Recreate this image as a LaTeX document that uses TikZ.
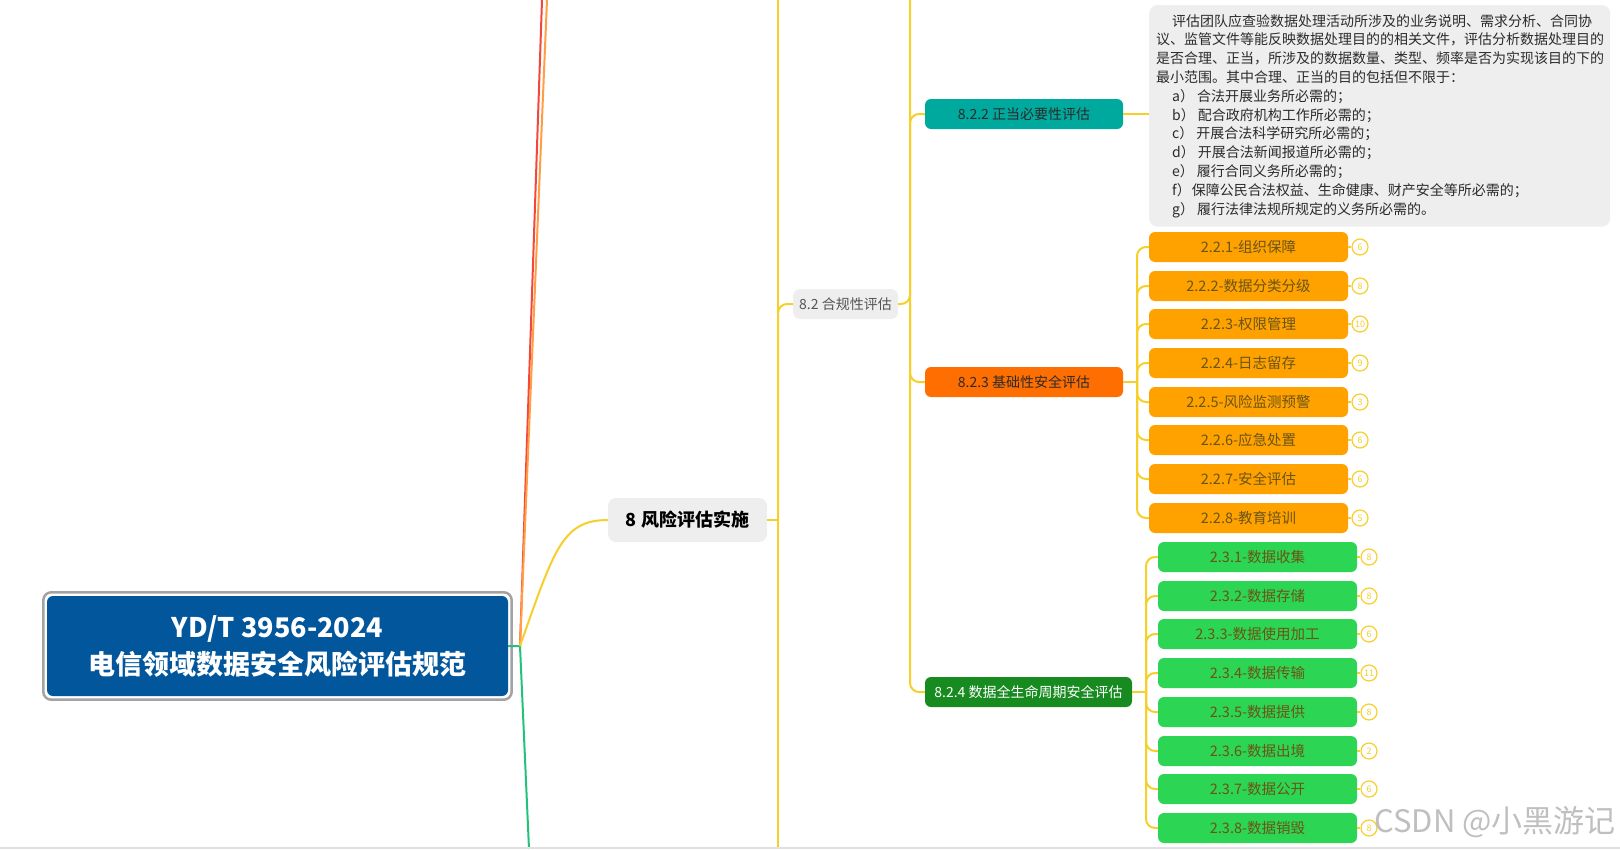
\documentclass[tikz,border=0pt]{standalone}
\usepackage{fontspec}
\setmainfont{Noto Sans CJK SC}
\newcommand{\pxsize}[2]{\fontsize{#1}{#2}\selectfont}
\definecolor{ink}{HTML}{2B2B2B}
\definecolor{slate}{HTML}{555555}
\definecolor{mist}{HTML}{EEEEEE}
\definecolor{frame}{HTML}{A3A3A3}
\definecolor{rootblue}{HTML}{02569B}
\definecolor{tealbox}{HTML}{00A99D}
\definecolor{tangerine}{HTML}{FF6E00}
\definecolor{forest}{HTML}{178A20}
\definecolor{amber}{HTML}{FFA200}
\definecolor{lime}{HTML}{2DD555}
\definecolor{olive}{HTML}{6A5416}
\definecolor{branch}{HTML}{F6CF2A}
\definecolor{linered}{HTML}{F2473C}
\definecolor{lineorange}{HTML}{FF9E45}
\definecolor{linegreen}{HTML}{22C27C}
\tikzset{
  %% nodes
  rootbox/.style  = {rounded corners=6pt, fill=rootblue, text=white, align=center,
                     minimum width=461pt, minimum height=100pt, inner sep=0pt,
                     font=\pxsize{27}{37}\bfseries},
  topic/.style    = {rounded corners=8pt, fill=mist, text=black, inner sep=0pt,
                     minimum width=159pt, minimum height=44pt, font=\pxsize{18}{22}\bfseries},
  subtopic/.style = {rounded corners=7pt, fill=mist, text=slate, inner sep=0pt,
                     minimum width=105pt, minimum height=30pt, font=\pxsize{14}{17}},
  section/.style  = {rounded corners=6pt, text=ink, inner sep=0pt,
                     minimum width=198pt, minimum height=30pt, font=\pxsize{14}{17}},
  item/.style     = {rounded corners=6pt, text=olive, inner sep=0pt,
                     minimum width=199pt, minimum height=30pt, font=\pxsize{14.5}{17}},
  badge/.style    = {circle, draw=branch, line width=1.2pt, fill=white, text=branch,
                     minimum size=16pt, inner sep=0pt, font=\pxsize{9}{10}},
  notebox/.style  = {rounded corners=8pt, fill=mist, text=ink, align=left,
                     text width=447pt, inner xsep=7pt, inner ysep=9pt,
                     font=\pxsize{14}{18.8}},
  watermark/.style= {text=black!25, font=\pxsize{31}{34}},
  %% connectors
  link/.style     = {draw=branch, line width=2pt, rounded corners=9pt},
}

\begin{document}
\begin{tikzpicture}[x=1pt, y=-1pt]
\useasboundingbox (0,0) rectangle (1620,849);

%% ---- root (left) ----
\node[rootbox] (root) at (277.5,646) {YD/T 3956-2024\\电信领域数据安全风险评估规范};
\draw[draw=frame, line width=2.5pt, rounded corners=8pt]
  ([shift={(-3.5,-3.5)}]root.north west) rectangle ([shift={(3.5,3.5)}]root.south east);

\coordinate (hub)       at (520,646);
\coordinate (redtop)    at (542,0);
\coordinate (orangetop) at (547,0);
\coordinate (greenend)  at (529,849);
\draw[draw=linegreen, line width=2pt] (root.east) -- (hub) -- (greenend);
\draw[draw=linered, line width=2pt] (hub) -- (redtop);
\draw[draw=lineorange, line width=2pt] (hub) -- (orangetop);

%% ---- chapter 8 ----
\node[topic] (risk) at (687.5,520) {8 风险评估实施};
\draw[draw=branch, line width=2pt] (hub) .. controls (554,550) and (562,520) .. (risk.west);

\coordinate (trunkA)    at (778,520);
\coordinate (trunkAtop) at (778,0);
\coordinate (trunkAbot) at (778,849);
\draw[link] (risk.east) -- (trunkA);
\draw[link] (trunkAtop) -- (trunkAbot);

\node[subtopic] (comp) at (845.5,304) {8.2 合规性评估};
\draw[link] (trunkA) |- (comp.west);

%% ---- 8.2 sections ----
\node[section, fill=tealbox] (nec)  at (1024,114) {8.2.2 正当必要性评估};
\node[section, fill=tangerine] (base) at (1024,382) {8.2.3 基础性安全评估};
\node[section, fill=forest, text=white, minimum width=207pt] (life) at (1028.5,692)
   {8.2.4 数据全生命周期安全评估};

\coordinate (trunkB)    at (910,304);
\coordinate (trunkBtop) at (910,0);
\draw[link] (comp.east) -- (trunkB) -- (trunkBtop);
\draw[link] (trunkB) |- (nec.west);
\draw[link] (trunkB) |- (base.west);
\draw[link] (trunkB) |- (life.west);

%% note of 8.2.2
\node[notebox, anchor=north west] (note) at (1149,5)
  {\hspace*{16pt}评估团队应查验数据处理活动所涉及的业务说明、需求分析、合同协\\
   议、监管文件等能反映数据处理目的的相关文件，评估分析数据处理目的\\
   是否合理、正当，所涉及的数据数量、类型、频率是否为实现该目的下的\\
   最小范围。其中合理、正当的目的包括但不限于：\\
   \hspace*{16pt}a）\hspace{3pt}合法开展业务所必需的；\\
   \hspace*{16pt}b）\hspace{3pt}配合政府机构工作所必需的；\\
   \hspace*{16pt}c）\hspace{3pt}开展合法科学研究所必需的；\\
   \hspace*{16pt}d）\hspace{3pt}开展合法新闻报道所必需的；\\
   \hspace*{16pt}e）\hspace{3pt}履行合同义务所必需的；\\
   \hspace*{16pt}f）\hspace{1pt}保障公民合法权益、生命健康、财产安全等所必需的；\\
   \hspace*{16pt}g）\hspace{3pt}履行法律法规所规定的义务所必需的。};
\draw[link] (nec.east) -- (note.west |- nec.east);

%% ---- 8.2.3 items (orange) ----
\coordinate (trunkC) at (1137,382);
\draw[link] (base.east) -- (trunkC);
\node[item, fill=amber] (o1) at (1248.5,247) {2.2.1-组织保障};
\node[item, fill=amber] (o2) at (1248.5,286) {2.2.2-数据分类分级};
\node[item, fill=amber] (o3) at (1248.5,324) {2.2.3-权限管理};
\node[item, fill=amber] (o4) at (1248.5,363) {2.2.4-日志留存};
\node[item, fill=amber] (o5) at (1248.5,402) {2.2.5-风险监测预警};
\node[item, fill=amber] (o6) at (1248.5,440) {2.2.6-应急处置};
\node[item, fill=amber] (o7) at (1248.5,479) {2.2.7-安全评估};
\node[item, fill=amber] (o8) at (1248.5,518) {2.2.8-教育培训};
\draw[link] (trunkC) |- (o1.west);
\draw[link] (trunkC) |- (o2.west);
\draw[link] (trunkC) |- (o3.west);
\draw[link] (trunkC) |- (o4.west);
\draw[link] (trunkC) |- (o5.west);
\draw[link] (trunkC) |- (o6.west);
\draw[link] (trunkC) |- (o7.west);
\draw[link] (trunkC) |- (o8.west);

\node[badge] (oc1) at (1360,247) {6};
\node[badge] (oc2) at (1360,286) {8};
\node[badge] (oc3) at (1360,324) {10};
\node[badge] (oc4) at (1360,363) {9};
\node[badge] (oc5) at (1360,402) {3};
\node[badge] (oc6) at (1360,440) {6};
\node[badge] (oc7) at (1360,479) {6};
\node[badge] (oc8) at (1360,518) {5};
\draw[link] (o1.east) -- (oc1.west);
\draw[link] (o2.east) -- (oc2.west);
\draw[link] (o3.east) -- (oc3.west);
\draw[link] (o4.east) -- (oc4.west);
\draw[link] (o5.east) -- (oc5.west);
\draw[link] (o6.east) -- (oc6.west);
\draw[link] (o7.east) -- (oc7.west);
\draw[link] (o8.east) -- (oc8.west);

%% ---- 8.2.4 items (green) ----
\coordinate (trunkD) at (1146,692);
\draw[link] (life.east) -- (trunkD);
\node[item, fill=lime] (g1) at (1257.5,557) {2.3.1-数据收集};
\node[item, fill=lime] (g2) at (1257.5,596) {2.3.2-数据存储};
\node[item, fill=lime] (g3) at (1257.5,634) {2.3.3-数据使用加工};
\node[item, fill=lime] (g4) at (1257.5,673) {2.3.4-数据传输};
\node[item, fill=lime] (g5) at (1257.5,712) {2.3.5-数据提供};
\node[item, fill=lime] (g6) at (1257.5,751) {2.3.6-数据出境};
\node[item, fill=lime] (g7) at (1257.5,789) {2.3.7-数据公开};
\node[item, fill=lime] (g8) at (1257.5,828) {2.3.8-数据销毁};
\draw[link] (trunkD) |- (g1.west);
\draw[link] (trunkD) |- (g2.west);
\draw[link] (trunkD) |- (g3.west);
\draw[link] (trunkD) |- (g4.west);
\draw[link] (trunkD) |- (g5.west);
\draw[link] (trunkD) |- (g6.west);
\draw[link] (trunkD) |- (g7.west);
\draw[link] (trunkD) |- (g8.west);

\node[badge] (gc1) at (1369,557) {8};
\node[badge] (gc2) at (1369,596) {8};
\node[badge] (gc3) at (1369,634) {6};
\node[badge] (gc4) at (1369,673) {11};
\node[badge] (gc5) at (1369,712) {8};
\node[badge] (gc6) at (1369,751) {2};
\node[badge] (gc7) at (1369,789) {6};
\node[badge] (gc8) at (1369,828) {8};
\draw[link] (g1.east) -- (gc1.west);
\draw[link] (g2.east) -- (gc2.west);
\draw[link] (g3.east) -- (gc3.west);
\draw[link] (g4.east) -- (gc4.west);
\draw[link] (g5.east) -- (gc5.west);
\draw[link] (g6.east) -- (gc6.west);
\draw[link] (g7.east) -- (gc7.west);
\draw[link] (g8.east) -- (gc8.west);

%% watermark + bottom edge
\node[watermark] (mark) at (1495,822) {CSDN @小黑游记};
\draw[black!12, line width=2pt] (0,848) -- (1620,848);
\end{tikzpicture}
\end{document}
